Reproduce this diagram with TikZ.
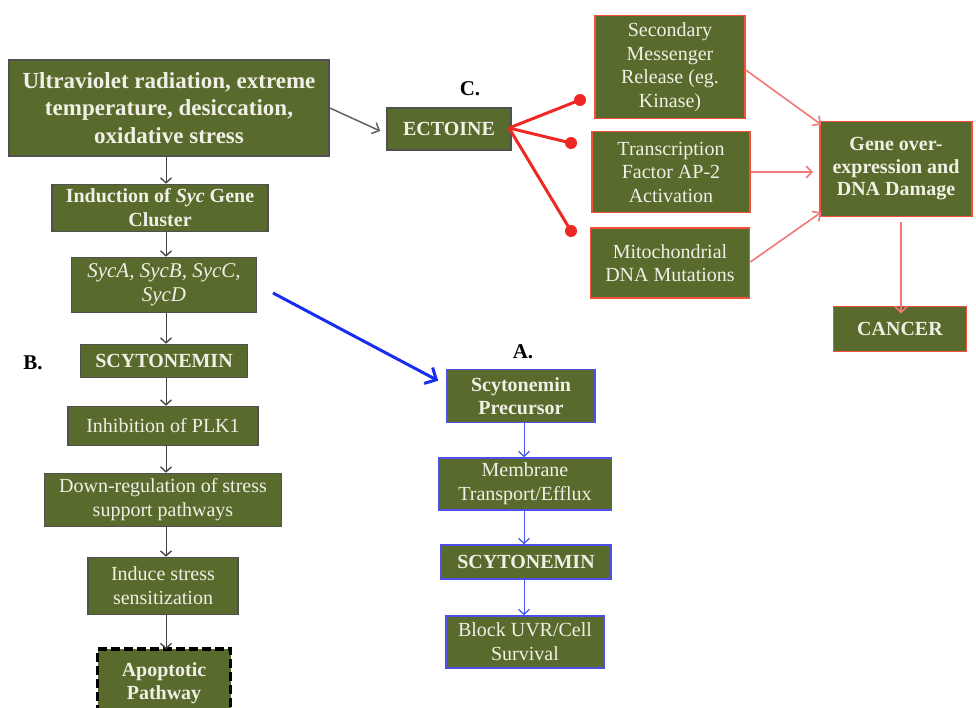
\documentclass[tikz,border=0pt]{standalone}
\usepackage{fontspec}
\setmainfont{Liberation Serif}
\usetikzlibrary{arrows.meta}
\definecolor{olive}{RGB}{88,106,44}
\definecolor{boxtext}{RGB}{240,240,230}
\definecolor{grayedge}{RGB}{80,80,80}
\definecolor{blueedge}{RGB}{80,80,230}
\definecolor{rededge}{RGB}{245,80,60}
\definecolor{redline}{RGB}{240,40,35}
\definecolor{pinkline}{RGB}{242,120,120}
\definecolor{bluearrow}{RGB}{25,45,240}
\tikzset{
  gbox/.style={draw=grayedge, fill=olive, line width=1.6pt, text=boxtext, align=center, inner sep=0pt, font=\fontsize{20}{24}\selectfont},
  abox/.style={gbox, draw=blueedge},
  cbox/.style={gbox, draw=rededge},
  blk/.style={draw=black!75, line width=1pt, -{Straight Barb[length=5pt,width=11pt,line width=1.3pt]}},
  blu/.style={draw=bluearrow!80, line width=1pt, -{Straight Barb[length=5pt,width=11pt,line width=1.3pt]}},
  pnk/.style={draw=pinkline, line width=1.6pt, -{Straight Barb[length=6pt,width=12pt,line width=1.6pt]}},
  inh/.style={draw=redline, line width=3pt},
  dotend/.style={circle, fill=redline, inner sep=0pt, minimum size=12pt},
  lbl/.style={font=\fontsize{21}{24}\selectfont\bfseries, text=black}
}
\begin{document}
\begin{tikzpicture}[x=1pt,y=-1pt]
\useasboundingbox (0,0) rectangle (976,708);
% left column
\node[gbox, minimum width=320, minimum height=96, font=\fontsize{23}{27.5}\selectfont\bfseries] (uv) at (169,108) {Ultraviolet radiation, extreme\\temperature, desiccation,\\oxidative stress};
\node[gbox, minimum width=216, minimum height=47, font=\fontsize{20}{24}\selectfont\bfseries] (ind) at (160,208) {Induction of \textit{Syc} Gene\\Cluster};
\node[gbox, minimum width=185, minimum height=55, font=\fontsize{21}{24}\selectfont\itshape] (syc) at (164,285) {SycA, SycB, SycC,\\SycD};
\node[gbox, minimum width=167, minimum height=33, font=\fontsize{20}{24}\selectfont\bfseries] (scyB) at (164,361) {SCYTONEMIN};
\node[gbox, minimum width=190, minimum height=39] (plk) at (163,426) {Inhibition of PLK1};
\node[gbox, minimum width=237, minimum height=53] (down) at (163,500) {Down-regulation of stress\\support pathways};
\node[gbox, minimum width=150, minimum height=57] (induce) at (163,586) {Induce stress\\sensitization};
\node[gbox, draw=black, dash pattern=on 9pt off 4pt, line width=3.5pt, minimum width=133, minimum height=68, font=\fontsize{20}{22.5}\selectfont\bfseries] (apop) at (164,683) {Apoptotic\\Pathway};
\node[lbl] (labB) at (33,363) {B.};
% column A
\node[lbl] (labA) at (523,352) {A.};
\node[abox, minimum width=148, minimum height=53, font=\fontsize{20}{23}\selectfont\bfseries] (prec) at (521,396) {Scytonemin\\Precursor};
\node[abox, minimum width=173, minimum height=52] (memb) at (525,484) {Membrane\\Transport/Efflux};
\node[abox, minimum width=170, minimum height=34, font=\fontsize{20}{24}\selectfont\bfseries] (scyA) at (526,562) {SCYTONEMIN};
\node[abox, minimum width=158, minimum height=52] (block) at (525,642) {Block UVR/Cell\\Survival};
% column C
\node[lbl] (labC) at (470,89) {C.};
\node[gbox, minimum width=124, minimum height=42, font=\fontsize{20}{24}\selectfont\bfseries] (ecto) at (449,129) {ECTOINE};
\node[cbox, minimum width=150, minimum height=103, font=\fontsize{20}{23.6}\selectfont] (sec) at (670,67) {Secondary\\Messenger\\Release (eg.\\Kinase)};
\node[cbox, minimum width=158, minimum height=81, font=\fontsize{20}{23.5}\selectfont] (tf) at (671,172) {Transcription\\Factor AP-2\\Activation};
\node[cbox, minimum width=159, minimum height=70, font=\fontsize{20}{23.5}\selectfont] (mito) at (670,263) {Mitochondrial\\DNA Mutations};
\node[cbox, minimum width=152, minimum height=95, font=\fontsize{20}{22.5}\selectfont\bfseries] (gene) at (896,169) {Gene over-\\expression and\\DNA Damage};
\node[cbox, minimum width=133, minimum height=45, font=\fontsize{20}{24}\selectfont\bfseries] (cancer) at (900,329) {CANCER};
% left arrows
\draw[blk] (uv.south) ++(-3,0) coordinate (uvs) -- (uvs |- ind.north);
\draw[blk] (ind.south -| 166,0) -- (syc.north -| 166,0);
\draw[blk] (syc.south -| 166,0) -- (scyB.north -| 166,0);
\draw[blk] (scyB.south -| 166,0) -- (plk.north -| 166,0);
\draw[blk] (plk.south -| 166,0) -- (down.north -| 166,0);
\draw[blk] (down.south -| 166,0) -- (induce.north -| 166,0);
\draw[blk] (induce.south -| 166,0) -- ([yshift=-2pt]apop.north -| 166,0);
% A arrows
\draw[blu] (prec.south -| 524,0) -- (memb.north -| 524,0);
\draw[blu] (memb.south -| 524,0) -- (scyA.north -| 524,0);
\draw[blu] (scyA.south -| 524,0) -- (block.north -| 524,0);
% blue long arrow
\coordinate (bstart) at (273,293);
\draw[draw=bluearrow, line width=3pt, -{Straight Barb[length=9pt,width=18pt,line width=3pt]}] (bstart) -- ([xshift=-8pt,yshift=-12pt]prec.north west);
% gray arrow
\draw[draw=grayedge!90, line width=1.5pt, -{Straight Barb[length=6pt,width=12pt,line width=1.5pt]}] (uv.east |- 0,108) -- ([xshift=-6pt,yshift=-2pt]ecto.west);
% ectoine inhibition lines
\coordinate (eo) at (509,128);
\node[dotend] (d1) at (580,100) {};
\node[dotend] (d2) at (571,143) {};
\node[dotend] (d3) at (571,231) {};
\draw[inh] (eo) -- (d1.center);
\draw[inh] (eo) -- (d2.center);
\draw[inh] (eo) -- (d3.center);
% pink arrows
\draw[pnk] (sec.east |- 0,70) -- ([xshift=2pt,yshift=-4pt]gene.north west);
\draw[pnk] (tf.east) -- ([xshift=-6pt]gene.west |- tf.east);
\draw[pnk] (mito.east |- 0,262) -- ([xshift=2pt,yshift=5pt]gene.south west);
\draw[pnk] ([yshift=-5pt]gene.south -| 901,0) -- ([yshift=-8pt]cancer.north -| 901,0);
\end{tikzpicture}
\end{document}
